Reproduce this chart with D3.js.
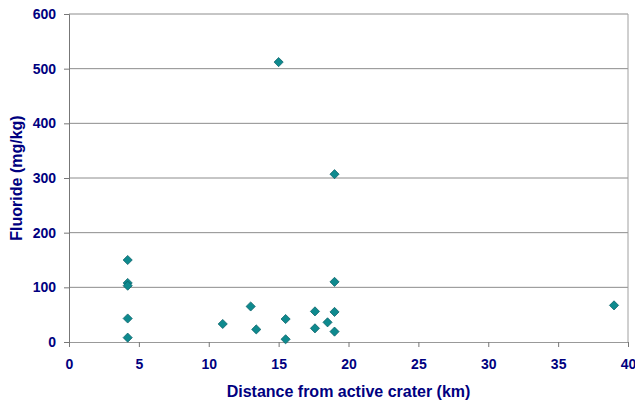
<!DOCTYPE html>
<html>
<head>
<meta charset="utf-8">
<script src="https://cdn.jsdelivr.net/npm/d3@7"></script>
<style>
  body { margin: 0; background: #fff; }
  svg { font-family: "Liberation Sans", Arial, sans-serif; font-weight: bold; }
</style>
</head>
<body>
<svg id="chart"></svg>
<script>
// Distance (km) and fluoride (mg/kg)
var distance = [4.2, 4.2, 4.2, 4.2, 4.2, 11.0, 13.0, 13.4, 15.0, 15.5, 15.5, 17.6, 17.6, 18.5, 19.0, 19.0, 19.0, 19.0, 39.0];
var fluoride = [150, 108, 103, 43, 8, 33, 65, 23, 512, 42, 5, 56, 25, 36, 307, 110, 55, 19, 67];
var xTicks = [0, 5, 10, 15, 20, 25, 30, 35, 40];
var yTicks = [0, 100, 200, 300, 400, 500, 600];

var width = 635, height = 403;
var margin = { left: 69, right: 7, top: 14, bottom: 61 };

var svg = d3.select("#chart").attr("width", width).attr("height", height);

var x = d3.scaleLinear().domain([0, 40]).range([margin.left, width - margin.right]);
var y = d3.scaleLinear().domain([0, 600]).range([height - margin.bottom, margin.top]);

var navy = "#000080";

// gridlines
svg.append("g").selectAll("line").data(yTicks.slice(1)).enter().append("line")
   .attr("x1", x(0)).attr("x2", x(40))
   .attr("y1", function(d) { return y(d); }).attr("y2", function(d) { return y(d); })
   .attr("stroke", "#8c8c8c").attr("stroke-width", 1);

// right border
svg.append("line")
   .attr("x1", x(40)).attr("x2", x(40)).attr("y1", y(600)).attr("y2", y(0))
   .attr("stroke", "#a0a0a0");

// axes
var xAxis = svg.append("g").attr("transform", "translate(0," + y(0) + ")")
   .call(d3.axisBottom(x).tickValues(xTicks).tickSize(5).tickPadding(12));
var yAxis = svg.append("g").attr("transform", "translate(" + x(0) + ",0)")
   .call(d3.axisLeft(y).tickValues(yTicks).tickSize(5).tickPadding(8));

[xAxis, yAxis].forEach(function(a) {
    a.select(".domain").attr("stroke", "#777");
    a.selectAll(".tick line").attr("stroke", "#777");
    a.selectAll(".tick text").attr("fill", navy).attr("font-size", 14)
     .attr("font-family", "Liberation Sans, Arial, sans-serif").attr("font-weight", "bold");
});
xAxis.select(".domain").attr("stroke", "#999");

// diamond markers (square turned 45 degrees)
var diamond = d3.symbol().type(d3.symbolSquare).size(42);
svg.append("g").selectAll("path").data(distance).enter().append("path")
   .attr("d", diamond)
   .attr("transform", function(d, i) { return "translate(" + x(d) + "," + y(fluoride[i]) + ") rotate(45)"; })
   .attr("fill", "#0e8a8e").attr("stroke", "#0a5f66").attr("stroke-width", 0.7);

// axis titles
svg.append("text")
   .attr("x", (x(0) + x(40)) / 2).attr("y", 397)
   .attr("text-anchor", "middle").attr("fill", navy).attr("font-size", 16)
   .text("Distance from active crater (km)");

svg.append("text")
   .attr("transform", "translate(22," + ((y(0) + y(600)) / 2) + ") rotate(-90)")
   .attr("text-anchor", "middle").attr("fill", navy).attr("font-size", 16)
   .text("Fluoride (mg/kg)");
</script>
</body>
</html>
